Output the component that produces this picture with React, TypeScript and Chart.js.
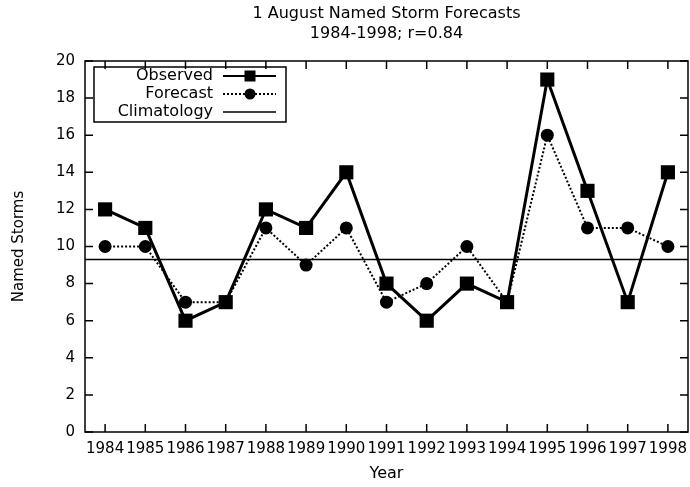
import React, { useEffect, useRef } from 'react';
import { Chart, registerables } from 'chart.js';

Chart.register(...registerables);

const years = ['1984', '1985', '1986', '1987', '1988', '1989', '1990', '1991', '1992', '1993', '1994', '1995', '1996', '1997', '1998'];
const observed = [12, 11, 6, 7, 12, 11, 14, 8, 6, 8, 7, 19, 13, 7, 14];
const forecast = [10, 10, 7, 7, 11, 9, 11, 7, 8, 10, 7, 16, 11, 11, 10];
const climatology = 9.3;
const yMin = 0;
const yMax = 20;
const yStep = 2;
const titleLines = ['1 August Named Storm Forecasts', '1984-1998; r=0.84'];
const xTitle = 'Year';
const yTitle = 'Named Storms';
const legendLabels = ['Observed', 'Forecast', 'Climatology'];

const FONT = 'DejaVu Sans';

const decorPlugin = {
  id: 'gnuplotDecor',
  beforeDatasetsDraw(chart: any) {
    const { ctx, chartArea: a, scales } = chart;
    const yc = scales.y.getPixelForValue(climatology);
    ctx.save();
    ctx.strokeStyle = '#000';
    ctx.lineWidth = 1.5;
    ctx.beginPath();
    ctx.moveTo(a.left, yc);
    ctx.lineTo(a.right, yc);
    ctx.stroke();
    ctx.restore();
  },
  afterDraw(chart: any) {
    const { ctx, chartArea: a, scales } = chart;
    const x = scales.x;
    const y = scales.y;
    ctx.save();
    ctx.strokeStyle = '#000';
    ctx.lineWidth = 1.5;
    ctx.setLineDash([]);
    ctx.strokeRect(a.left, a.top, a.right - a.left, a.bottom - a.top);
    const tl = 8;
    ctx.beginPath();
    y.ticks.forEach((t: any) => {
      const py = y.getPixelForValue(t.value);
      ctx.moveTo(a.left, py);
      ctx.lineTo(a.left + tl, py);
      ctx.moveTo(a.right, py);
      ctx.lineTo(a.right - tl, py);
    });
    years.forEach((_, i) => {
      const px = x.getPixelForValue(i);
      ctx.moveTo(px, a.bottom);
      ctx.lineTo(px, a.bottom - tl);
      ctx.moveTo(px, a.top);
      ctx.lineTo(px, a.top + tl);
    });
    ctx.stroke();

    // legend
    const bx = a.left + 9;
    const by = a.top + 6;
    ctx.lineWidth = 1.5;
    ctx.strokeRect(bx, by, 192, 55);
    const textRight = a.left + 128;
    const l0 = a.left + 138;
    const l1 = a.left + 191;
    const mx = a.left + 165;
    const rows = [a.top + 15, a.top + 33, a.top + 51];
    ctx.font = `16px "${FONT}"`;
    ctx.fillStyle = '#000';
    ctx.textAlign = 'right';
    ctx.textBaseline = 'middle';
    legendLabels.forEach((lab, i) => {
      ctx.fillText(lab, textRight, rows[i]);
    });
    // observed sample
    ctx.lineWidth = 2;
    ctx.beginPath();
    ctx.moveTo(l0, rows[0]);
    ctx.lineTo(l1, rows[0]);
    ctx.stroke();
    ctx.fillRect(mx - 5.5, rows[0] - 5.5, 11, 11);
    // forecast sample
    ctx.setLineDash([2, 2]);
    ctx.beginPath();
    ctx.moveTo(l0, rows[1]);
    ctx.lineTo(l1, rows[1]);
    ctx.stroke();
    ctx.setLineDash([]);
    ctx.beginPath();
    ctx.arc(mx, rows[1], 5.5, 0, Math.PI * 2);
    ctx.fill();
    // climatology sample
    ctx.lineWidth = 1.5;
    ctx.beginPath();
    ctx.moveTo(l0, rows[2]);
    ctx.lineTo(l1, rows[2]);
    ctx.stroke();
    ctx.restore();
  },
};

export default function App() {
  const ref = useRef<HTMLCanvasElement | null>(null);
  useEffect(() => {
    document.body.style.margin = '0';
    const canvas = ref.current;
    if (!canvas) return;
    const chart = new Chart(canvas, {
      type: 'line',
      data: {
        labels: years,
        datasets: [
          {
            label: 'Observed',
            data: observed,
            borderColor: '#000',
            backgroundColor: '#000',
            borderWidth: 3,
            pointStyle: 'rect',
            pointRadius: 10,
            pointBorderWidth: 0,
            pointBackgroundColor: '#000',
            tension: 0,
            fill: false,
          },
          {
            label: 'Forecast',
            data: forecast,
            borderColor: '#000',
            backgroundColor: '#000',
            borderWidth: 2,
            borderDash: [2, 2],
            pointStyle: 'circle',
            pointRadius: 6.5,
            pointBorderWidth: 0,
            pointBackgroundColor: '#000',
            tension: 0,
            fill: false,
          },
        ],
      },
      options: {
        animation: false,
        responsive: false,
        devicePixelRatio: 1,
        layout: { autoPadding: false, padding: { left: 0, right: 2, top: 0, bottom: 0 } },
        plugins: {
          legend: { display: false },
          tooltip: { enabled: false },
          title: {
            display: true,
            text: titleLines,
            fullSize: false,
            color: '#000',
            font: { family: FONT, size: 16, weight: 'normal', lineHeight: 1.25 },
            padding: { top: 4, bottom: 17 },
          },
        },
        scales: {
          x: {
            type: 'category',
            offset: true,
            grid: { display: false, drawTicks: true, tickLength: 8 },
            border: { display: false },
            ticks: {
              autoSkip: false,
              maxRotation: 0,
              minRotation: 0,
              padding: 0,
              color: '#000',
              font: { family: FONT, size: 15 },
            },
            title: {
              display: true,
              text: xTitle,
              color: '#000',
              font: { family: FONT, size: 16 },
              padding: { top: 0, bottom: 4 },
            },
            afterFit: (s: any) => {
              s.height = 55;
              s.paddingLeft = 0;
              s.paddingRight = 0;
            },
          },
          y: {
            min: yMin,
            max: yMax,
            grid: { display: false, drawTicks: true, tickLength: 10 },
            border: { display: false },
            ticks: {
              stepSize: yStep,
              padding: 0,
              color: '#000',
              font: { family: FONT, size: 15 },
            },
            title: {
              display: true,
              text: yTitle,
              color: '#000',
              font: { family: FONT, size: 15 },
              padding: { top: 10, bottom: 0 },
            },
            afterFit: (s: any) => {
              s.width = 85;
            },
          },
        },
      },
      plugins: [decorPlugin],
    } as any);
    return () => chart.destroy();
  }, []);
  return (
    <div style={{ width: 690, height: 487 }}>
      <canvas ref={ref} width={690} height={487} style={{ display: 'block' }} />
    </div>
  );
}
